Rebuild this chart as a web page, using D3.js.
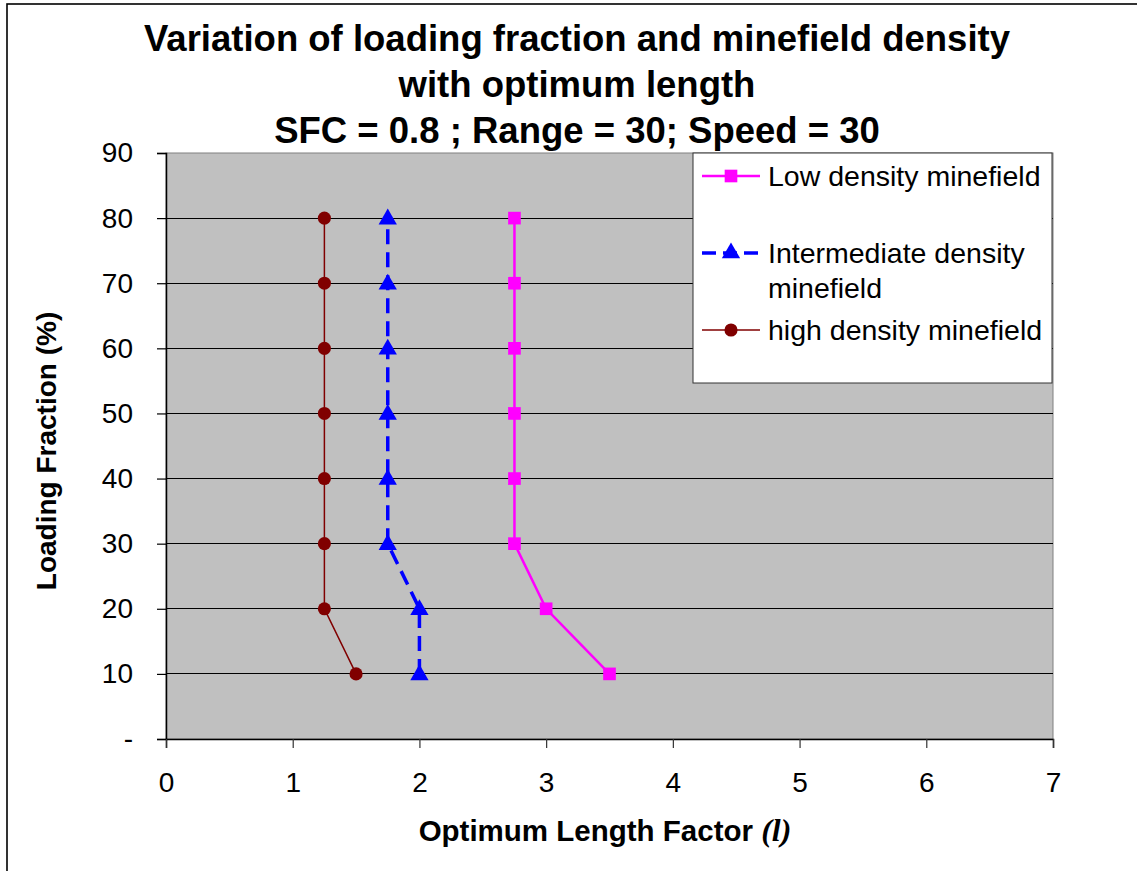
<!DOCTYPE html>
<html><head><meta charset="utf-8">
<script src="https://cdn.jsdelivr.net/npm/d3@7"></script>
<style>
html,body{margin:0;padding:0;background:#fff;}
svg{display:block;font-family:"Liberation Sans",Arial,sans-serif;}
</style></head>
<body>
<script>
// ---- data ----
const loadingFraction = [10, 20, 30, 40, 50, 60, 70, 80];
const lowDensity = [3.5, 3.0, 2.75, 2.75, 2.75, 2.75, 2.75, 2.75];
const intermediateDensity = [2.0, 2.0, 1.75, 1.75, 1.75, 1.75, 1.75, 1.75];
const highDensity = [1.5, 1.25, 1.25, 1.25, 1.25, 1.25, 1.25, 1.25];
const xTicks = [0, 1, 2, 3, 4, 5, 6, 7];
const yTicks = [0, 10, 20, 30, 40, 50, 60, 70, 80, 90];
const yTickLabels = ["-", "10", "20", "30", "40", "50", "60", "70", "80", "90"];
const titleLines = ["Variation of loading fraction and minefield density", "with optimum length", "SFC = 0.8 ; Range = 30; Speed = 30"];
const seriesNames = ["Low density minefield", "Intermediate density|minefield", "high density minefield"];

const W = 1137, H = 871;
const svg = d3.select("body").append("svg").attr("width", W).attr("height", H);

// outer border (top & left visible)
svg.append("rect").attr("x", 7).attr("y", 4).attr("width", 1200).attr("height", 1000)
  .attr("fill", "none").attr("stroke", "#000").attr("stroke-width", 1.6);

const plot = {l: 166, r: 1053, t: 153, b: 739};
const x = d3.scaleLinear().domain([0, 7]).range([plot.l, plot.r]);
const y = d3.scaleLinear().domain([0, 90]).range([plot.b, plot.t]);

// plot area
svg.append("rect").attr("x", plot.l).attr("y", plot.t).attr("width", plot.r - plot.l).attr("height", plot.b - plot.t)
  .attr("fill", "#c0c0c0").attr("stroke", "#808080").attr("stroke-width", 1);

// gridlines
svg.append("g").selectAll("line").data(yTicks.filter(v => v > 0 && v < 90)).join("line")
  .attr("x1", plot.l).attr("x2", plot.r).attr("y1", d => y(d)).attr("y2", d => y(d))
  .attr("stroke", "#000").attr("stroke-width", 1).attr("shape-rendering", "crispEdges");

// axes
const yAxis = d3.axisLeft(y).tickValues(yTicks).tickSize(9).tickPadding(24)
  .tickFormat((d, i) => yTickLabels[i]);
const gy = svg.append("g").attr("transform", `translate(${plot.l},0)`).call(yAxis);
gy.select(".domain").attr("stroke", "#000").attr("stroke-width", 1.5);
gy.selectAll(".tick line").attr("stroke", "#000").attr("stroke-width", 1.2);
gy.selectAll(".tick text").attr("font-size", 28).attr("fill", "#000")
  .attr("font-family", "'Liberation Sans',Arial,sans-serif");

const xAxis = d3.axisBottom(x).tickValues(xTicks).tickSize(9).tickPadding(24).tickFormat(d3.format("d"));
const gx = svg.append("g").attr("transform", `translate(0,${plot.b})`).call(xAxis);
gx.select(".domain").attr("stroke", "#000").attr("stroke-width", 1.5);
gx.selectAll(".tick line").attr("stroke", "#333").attr("stroke-width", 1.2);
gx.selectAll(".tick text").attr("font-size", 28).attr("fill", "#000")
  .attr("font-family", "'Liberation Sans',Arial,sans-serif");

// series
const series = [
  {name: seriesNames[0], vals: lowDensity, color: "#ff00ff", width: 2.5, dash: null, marker: "square"},
  {name: seriesNames[1], vals: intermediateDensity, color: "#0000ff", width: 3.5, dash: "15,8", marker: "triangle"},
  {name: seriesNames[2], vals: highDensity, color: "#800000", width: 1.5, dash: null, marker: "circle"}
];
const symType = {square: d3.symbolSquare, triangle: d3.symbolTriangle, circle: d3.symbolCircle};
const symSize = {square: 160, triangle: 145, circle: 135};

const line = d3.line().x(d => x(d[0])).y(d => y(d[1]));
series.forEach(s => {
  const pts = s.vals.map((v, i) => [v, loadingFraction[i]]);
  svg.append("path").datum(pts).attr("d", line).attr("fill", "none")
    .attr("stroke", s.color).attr("stroke-width", s.width)
    .attr("stroke-dasharray", s.dash);
  svg.append("g").selectAll("path").data(pts).join("path")
    .attr("d", d3.symbol().type(symType[s.marker]).size(symSize[s.marker]))
    .attr("transform", d => `translate(${x(d[0])},${y(d[1]) + (s.marker === "triangle" ? 1 : 0)})`)
    .attr("fill", s.color);
});

// legend
const lg = svg.append("g");
lg.append("rect").attr("x", 693).attr("y", 153).attr("width", 359).attr("height", 230)
  .attr("fill", "#fff").attr("stroke", "#333").attr("stroke-width", 1);
const legendRows = [176, 253, 330];
series.forEach((s, i) => {
  const yy = legendRows[i];
  lg.append("line").attr("x1", 702).attr("x2", 760).attr("y1", yy).attr("y2", yy)
    .attr("stroke", s.color).attr("stroke-width", s.width).attr("stroke-dasharray", s.dash ? "14,7" : null);
  lg.append("path").attr("d", d3.symbol().type(symType[s.marker]).size(symSize[s.marker]))
    .attr("transform", `translate(731,${yy})`).attr("fill", s.color);
  const parts = s.name.split("|");
  parts.forEach((p, j) => {
    lg.append("text").attr("x", 768).attr("y", yy + 10 + j * 35).attr("font-size", 28.5).attr("fill", "#000").text(p);
  });
});

// title
const title = svg.append("g").attr("font-weight", "bold").attr("font-size", 36.5).attr("text-anchor", "middle");
const titleBase = [51, 97, 143];
titleLines.forEach((t, i) => {
  title.append("text").attr("x", 577).attr("y", titleBase[i]).text(t);
});

// axis titles
svg.append("text").attr("transform", "translate(56,451) rotate(-90)")
  .attr("text-anchor", "middle").attr("font-size", 28).attr("font-weight", "bold").text("Loading Fraction (%)");
const xt = svg.append("text").attr("x", 605).attr("y", 841).attr("text-anchor", "middle")
  .attr("font-size", 29.5).attr("font-weight", "bold");
xt.append("tspan").text("Optimum Length Factor ");
xt.append("tspan").attr("font-family", "'Liberation Serif','Times New Roman',serif")
  .attr("font-style", "italic").attr("font-size", 32).text("(l)");
</script>
</body></html>
